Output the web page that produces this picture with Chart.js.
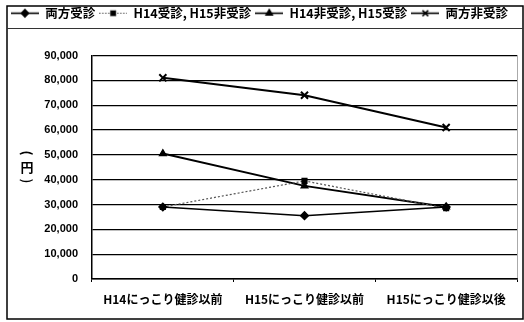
<!DOCTYPE html>
<html>
<head>
<meta charset="utf-8">
<script src="https://cdn.jsdelivr.net/npm/chart.js@4.4.1/dist/chart.umd.min.js"></script>
<style>
  html, body { margin: 0; padding: 0; background: #fff; }
  #wrap { width: 524px; height: 322px; }
</style>
</head>
<body>
<div id="wrap"><canvas id="myChart" width="524" height="322"></canvas></div>
<script>
const labels = ['H14にっこり健診以前', 'H15にっこり健診以前', 'H15にっこり健診以後']
const seriesNames = ['両方受診', 'H14受診, H15非受診', 'H14非受診, H15受診', '両方非受診']
const bothVisited = [29000, 25500, 29000]
const onlyH14 = [29000, 39500, 28500]
const onlyH15 = [50500, 37500, 29000]
const neither = [81000, 74000, 61000]
const yTicks = [0, 10000, 20000, 30000, 40000, 50000, 60000, 70000, 80000, 90000]
const yTitle = ['(', '円', ')']

const JP = '"Noto Sans CJK JP", "Noto Sans", sans-serif'

// little legend sample: line + marker, drawn the way the series looks
function sample(style, dashed) {
    const c = document.createElement('canvas')
    c.width = 28
    c.height = 11
    const ctx = c.getContext('2d')
    ctx.strokeStyle = dashed ? '#555' : '#000'
    ctx.lineWidth = dashed ? 1.2 : 1.6
    if (dashed) ctx.setLineDash([1.5, 1.5])
    ctx.beginPath()
    ctx.moveTo(0, 5.5)
    ctx.lineTo(28, 5.5)
    ctx.stroke()
    ctx.setLineDash([])
    Chart.helpers.drawPoint(ctx, {
        pointStyle: style,
        radius: style === 'crossRot' ? 4 : 3.5,
        borderWidth: 1.6,
        rotation: 0
    }, 14, 5.5)
    ctx.fillStyle = '#000'
    if (style !== 'crossRot') ctx.fill()
    return c
}

const styles = [
    { pointStyle: 'rectRot', dashed: false, width: 1.6, radius: 4 },
    { pointStyle: 'rect', dashed: true, width: 1.2, radius: 3.5 },
    { pointStyle: 'triangle', dashed: false, width: 2, radius: 4 },
    { pointStyle: 'crossRot', dashed: false, width: 2, radius: 5 }
]

const values = [bothVisited, onlyH14, onlyH15, neither]

const datasets = seriesNames.map((name, i) => ({
    label: name,
    data: values[i],
    borderColor: styles[i].dashed ? '#555' : '#000',
    borderWidth: styles[i].width,
    borderDash: styles[i].dashed ? [2, 2] : [],
    pointStyle: styles[i].pointStyle,
    pointRadius: styles[i].radius,
    pointBorderWidth: i === 3 ? 2 : 1.2,
    pointBorderColor: '#000',
    pointBackgroundColor: '#000',
    tension: 0,
    fill: false
}))

const frame = {
    id: 'frame',
    afterDraw(chart) {
        const ctx = chart.ctx
        const a = chart.chartArea
        ctx.save()
        // outer frame + legend box line
        ctx.strokeStyle = '#000'
        ctx.lineWidth = 1.5
        ctx.strokeRect(7, 6, 516, 313)
        ctx.lineWidth = 1
        ctx.strokeStyle = '#333'
        ctx.beginPath()
        ctx.moveTo(7, 28.5)
        ctx.lineTo(523, 28.5)
        ctx.stroke()
        // dotted right edge of plot
        ctx.strokeStyle = '#555'
        ctx.setLineDash([1, 1])
        ctx.beginPath()
        ctx.moveTo(a.right + 0.5, a.top)
        ctx.lineTo(a.right + 0.5, a.bottom)
        ctx.stroke()
        ctx.setLineDash([])
        // y title written vertically: brackets turned, 円 upright
        ctx.fillStyle = '#000'
        ctx.font = 'bold 13px ' + JP
        ctx.textAlign = 'center'
        ctx.textBaseline = 'middle'
        const ys = [153, 167, 181]
        yTitle.forEach((t, i) => {
            ctx.save()
            ctx.translate(27, ys[i])
            if (i !== 1) ctx.rotate(Math.PI / 2)
            ctx.fillText(t, 0, 0)
            ctx.restore()
        })
        ctx.restore()
    }
}

const el = document.getElementById('myChart')

const config = {
    type: 'line',
    data: { labels: labels, datasets: datasets },
    options: {
        responsive: false,
        animation: false,
        devicePixelRatio: 1,
        layout: { padding: { top: 3, left: 0, right: 5, bottom: 0 } },
        plugins: {
            tooltip: { enabled: false },
            // empty title used only as a spacer under the legend
            title: {
                display: true,
                text: '',
                weight: 500,
                font: { size: 10 },
                padding: { top: 0, bottom: 14 }
            },
            legend: {
                display: true,
                position: 'top',
                labels: {
                    color: '#000',
                    font: { family: JP, size: 12.5, weight: 'bold' },
                    padding: 4,
                    usePointStyle: true,
                    pointStyleWidth: 28,
                    generateLabels: chart => chart.data.datasets.map((ds, i) => ({
                        text: ds.label,
                        pointStyle: sample(styles[i].pointStyle, styles[i].dashed),
                        fillStyle: '#000',
                        strokeStyle: '#000',
                        lineWidth: 0,
                        hidden: false,
                        datasetIndex: i,
                        fontColor: '#000'
                    }))
                }
            }
        },
        scales: {
            x: {
                offset: true,
                grid: {
                    display: true,
                    offset: true,
                    drawOnChartArea: false,
                    drawTicks: true,
                    tickLength: 3,
                    color: '#000'
                },
                border: { display: true, color: '#000', width: 1.5 },
                ticks: {
                    color: '#000',
                    padding: 10,
                    maxRotation: 0,
                    font: { family: JP, size: 12, weight: 'bold' }
                },
                afterFit: s => { s.height = 43 }
            },
            y: {
                min: 0,
                max: 90000,
                afterBuildTicks: s => { s.ticks = yTicks.map(v => ({ value: v })) },
                grid: { color: '#000', lineWidth: 1.3, drawTicks: false },
                border: { display: true, color: '#000', width: 1.5 },
                ticks: {
                    color: '#000',
                    padding: 14,
                    font: { family: '"Liberation Sans", Arial, sans-serif', size: 11, weight: 'bold' },
                    callback: v => v.toLocaleString('en-US')
                },
                afterFit: s => { s.width = 92 }
            }
        }
    },
    plugins: [frame]
}

const myChart = new Chart(el, config)
</script>
</body>
</html>
